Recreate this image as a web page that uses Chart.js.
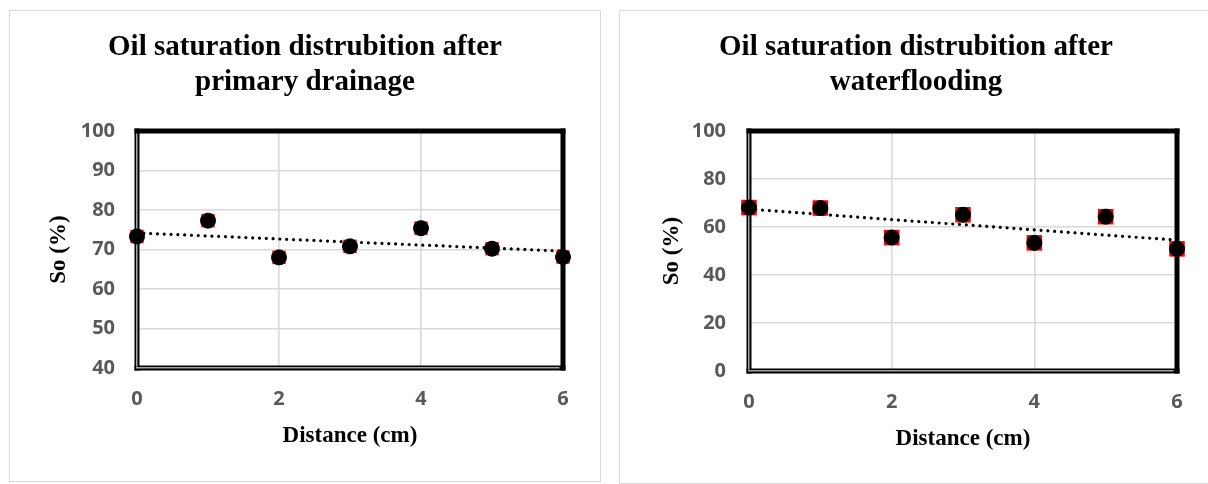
<!DOCTYPE html>
<html>
<head>
<meta charset="utf-8">
<script src="https://cdn.jsdelivr.net/npm/chart.js@4.4.0/dist/chart.umd.min.js"></script>
<style>
  html, body { margin: 0; padding: 0; background: #fff; overflow: hidden; width: 1208px; height: 484px; }
  .box { position: absolute; border: 1px solid #d9d9d9; background: #fff; }
  #b1 { left: 9px; top: 10px; width: 590px; height: 470px; }
  #b2 { left: 619px; top: 10px; width: 592px; height: 472px; }
  canvas { display: block; }
</style>
</head>
<body>
<div class="box" id="b1"><canvas id="c1" width="590" height="470"></canvas></div>
<div class="box" id="b2"><canvas id="c2" width="592" height="472"></canvas></div>
<script>
// ---- data ----
const distance = [0, 1, 2, 3, 4, 5, 6];
const soDrainage = [73.3, 77.3, 68.0, 70.8, 75.4, 70.2, 68.1];
const soWaterflood = [68.1, 67.9, 55.6, 65.1, 53.4, 64.3, 50.9];
const trendX = [0, 6];
const trendDrainage = [74.2, 69.6];
const trendWaterflood = [67.4, 54.5];
const titleDrainage = ['Oil saturation distrubition after', 'primary drainage'];
const titleWaterflood = ['Oil saturation distrubition after', 'waterflooding'];
const yTitle = 'So (%)';
const xTitle = 'Distance (cm)';

const pts = (xs, ys) => xs.map((x, i) => ({ x: x, y: ys[i] }));

const framePlugin = {
  id: 'frame',
  beforeDatasetsDraw(chart) {
    const { ctx, chartArea: a } = chart;
    ctx.save();
    ctx.fillStyle = '#000';
    ctx.fillRect(a.left - 2.5, a.top - 2.5, a.right - a.left + 5, 5);
    ctx.fillRect(a.right - 2.5, a.top - 2.5, 5, a.bottom - a.top + 5);
    ctx.fillRect(a.left - 2.5, a.top - 2.5, 5, a.bottom - a.top + 5);
    ctx.fillRect(a.left - 2.5, a.bottom - 2.5, a.right - a.left + 5, 5);
    ctx.fillStyle = '#a6a6a6';
    ctx.fillRect(a.left - 1, a.top + 2.5, 1.5, a.bottom - a.top - 4);
    ctx.fillRect(a.left - 1, a.bottom - 1, a.right - a.left - 2.5, 1.5);
    ctx.restore();
  }
};

function makeChart(id, values, trend, title, yMin, yMax, yStep, L) {
  new Chart(document.getElementById(id), {
    type: 'scatter',
    data: {
      datasets: [
        { data: pts(distance, values), pointStyle: 'circle', pointRadius: 7.5,
          backgroundColor: '#000', borderColor: '#000', borderWidth: 1, order: 0, clip: false },
        { data: pts(distance, values), pointStyle: 'rect', pointRadius: L.sq,
          backgroundColor: '#ff0000', borderColor: '#ff0000', borderWidth: 0, order: 1, clip: false },
        { data: pts(trendX, trend), showLine: true, pointRadius: 0, borderColor: '#000',
          borderWidth: 3.2, borderDash: [0.01, 6.8], borderCapStyle: 'round', order: 2, clip: false }
      ]
    },
    options: {
      responsive: false,
      animation: false,
      layout: { padding: 0 },
      plugins: {
        legend: { display: false },
        tooltip: { enabled: false },
        title: {
          display: true, text: title, color: '#000',
          font: { family: 'Liberation Serif', size: 29, weight: 'bold', lineHeight: 35 / 29 },
          padding: { top: 19.5, bottom: L.titleBottom }
        }
      },
      scales: {
        x: {
          type: 'linear', min: 0, max: 6,
          afterFit(s) { s.height = L.xh; },
          ticks: { stepSize: 2, padding: L.xtp, color: '#595959',
                   font: { family: 'Open Sans', size: 20, weight: 'bold', lineHeight: 1.2 } },
          grid: { color: '#d9d9d9', lineWidth: 1.6, drawTicks: false },
          border: { display: false },
          title: { display: true, text: xTitle, color: '#000',
                   font: { family: 'Liberation Serif', size: 23, weight: 'bold', lineHeight: 1.2 },
                   padding: { top: 0, bottom: L.xtb } }
        },
        y: {
          min: yMin, max: yMax,
          afterFit(s) { s.width = L.yw; },
          ticks: { stepSize: yStep, padding: L.ytp, color: '#595959',
                   font: { family: 'Open Sans', size: 20, weight: 'bold', lineHeight: 1.2 } },
          grid: { color: '#d9d9d9', lineWidth: 1.6, drawTicks: false },
          border: { display: false },
          title: { display: true, text: yTitle, color: '#000',
                   font: { family: 'Liberation Serif', size: 23, weight: 'bold', lineHeight: 1.2 },
                   padding: { top: L.ytt, bottom: 0 } }
        },
        yRight: {
          position: 'right', display: true,
          afterFit(s) { s.width = L.right; },
          ticks: { display: false },
          grid: { display: false, drawTicks: false },
          border: { display: false }
        }
      }
    },
    plugins: [framePlugin]
  });
}

makeChart('c1', soDrainage, trendDrainage, titleDrainage, 40, 100, 10,
  { right: 37, titleBottom: 30.5, xh: 113, xtp: 19, xtb: 31.2, yw: 127, ytp: 22, ytt: 35.2, sq: 9.5 });
makeChart('c2', soWaterflood, trendWaterflood, titleWaterflood, 0, 100, 20,
  { right: 35, titleBottom: 30.5, xh: 112, xtp: 19, xtb: 30.2, yw: 129, ytp: 23, ytt: 38, sq: 11 });
</script>
</body>
</html>
